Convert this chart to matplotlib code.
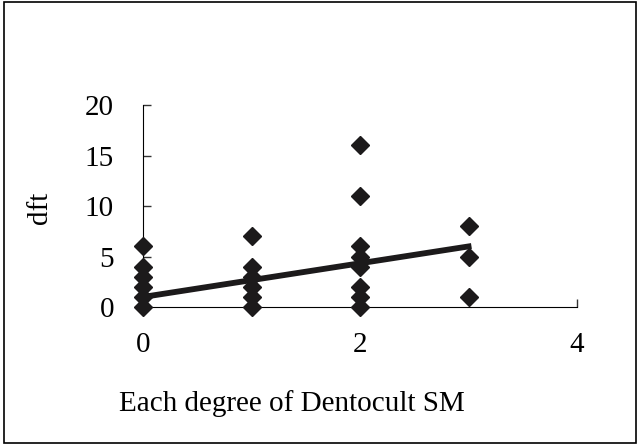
import matplotlib
matplotlib.use("Agg")
from matplotlib import pyplot as plt
from matplotlib.patches import Rectangle

# scores
degree = [0, 0, 0, 0, 0, 0,
          1, 1, 1, 1, 1, 1,
          2, 2, 2, 2, 2, 2, 2, 2,
          3, 3, 3]
dft = [0, 1, 2, 3, 4, 6,
       0, 1, 2, 3, 4, 7,
       0, 1, 2, 4, 5, 6, 11, 16,
       1, 5, 8]

# linear trend line endpoints
trend_x = [0, 3]
trend_y = [1.0, 6.0]

x_ticks = [0, 2, 4]
y_ticks = [0, 5, 10, 15, 20]

plt.rcParams["font.family"] = ["Liberation Serif", "DejaVu Serif"]
fs = 21

fig = plt.figure(figsize=(6.39, 4.45), dpi=100)
ax = fig.add_axes([0.224, 0.31, 0.679, 0.454])

ax.plot(degree, dft, "D", color="#1c1a1b", markersize=9.5, clip_on=False, zorder=3)
ax.plot(trend_x, trend_y, "-", color="#1c1a1b", linewidth=4.2, zorder=4)

ax.set_xlim(0, 4)
ax.set_ylim(0, 20)
ax.set_xticks(x_ticks)
ax.set_yticks(y_ticks)
ax.spines["top"].set_visible(False)
ax.spines["right"].set_visible(False)
ax.tick_params(direction="in", length=6, width=1, labelsize=fs, color="#333333")
ax.tick_params(axis="y", pad=21)
ax.tick_params(axis="x", pad=18)

fig.text(0.456, 0.094, "Each degree of Dentocult SM", fontsize=fs, ha="center", va="center")
fig.text(0.063, 0.533, "dft", fontsize=fs, rotation=90, ha="center", va="center")

fig.patches.append(Rectangle((0.006, 0.004), 0.99, 0.992, transform=fig.transFigure,
                             fill=False, edgecolor="black", linewidth=1.2))

fig.savefig("out.png", dpi=100)
